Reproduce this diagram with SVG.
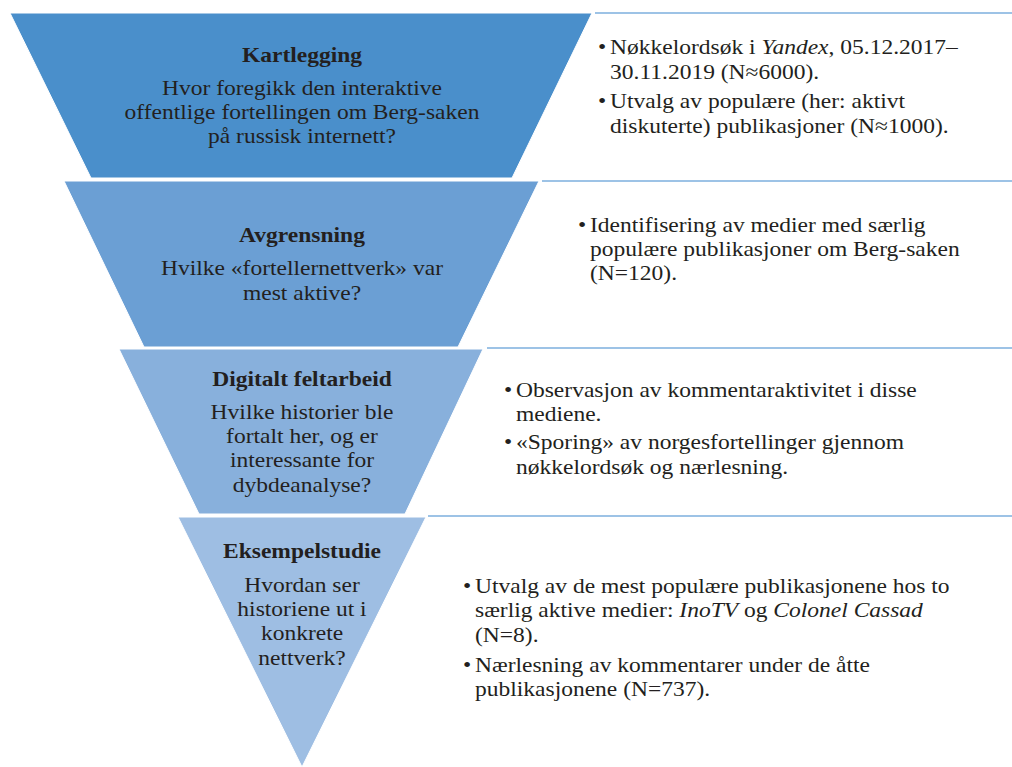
<svg xmlns="http://www.w3.org/2000/svg" width="1012" height="767" viewBox="0 0 1012 767">
<style>
.t{font-family:'Liberation Serif','Tinos','DejaVu Serif','Noto Serif',serif;font-size:21px;fill:#231f20}
.b{font-weight:bold}
.c{text-anchor:middle}
.i{font-style:italic}
.line{stroke:#9dc3e6;stroke-width:2;fill:none}
.seg{stroke:#ffffff;stroke-width:1}
</style>
<rect width="1012" height="767" fill="#ffffff"/>
<g id="connectors"></g>
<g id="seg1">
<polygon class="seg" points="10,13 592,13 512,178 91,178" fill="#4a8fcb"/>
<g transform="translate(302 0) scale(1.12 1)">
<text class="t c" font-family="Liberation Serif, serif"><tspan class="b" x="0" y="62">Kartlegging</tspan><tspan x="0" y="95">Hvor foregikk den interaktive</tspan><tspan x="0" y="119">offentlige fortellingen om Berg-saken</tspan><tspan x="0" y="143">på russisk internett?</tspan></text>
</g>
</g>
<g id="seg2">
<polygon class="seg" points="64,181 539,181 458,347 144,347" fill="#6b9fd4"/>
<g transform="translate(302 0) scale(1.12 1)">
<text class="t c"><tspan class="b" x="0" y="242">Avgrensning</tspan><tspan x="0" y="275">Hvilke «fortellernettverk» var</tspan><tspan x="0" y="300">mest aktive?</tspan></text>
</g>
</g>
<g id="seg3">
<polygon class="seg" points="119,349 483,349 405,514 199,514" fill="#88b0dc"/>
<g transform="translate(302 0) scale(1.12 1)">
<text class="t c"><tspan class="b" x="0" y="386">Digitalt feltarbeid</tspan><tspan x="0" y="419">Hvilke historier ble</tspan><tspan x="0" y="443">fortalt her, og er</tspan><tspan x="0" y="467">interessante for</tspan><tspan x="0" y="492">dybdeanalyse?</tspan></text>
</g>
</g>
<g id="seg4">
<polygon class="seg" points="178,517 426,517 302,767" fill="#9ebee3"/>
<g transform="translate(302 0) scale(1.12 1)">
<text class="t c"><tspan class="b" x="0" y="558">Eksempelstudie</tspan><tspan x="0" y="592">Hvordan ser</tspan><tspan x="0" y="616">historiene ut i</tspan><tspan x="0" y="640">konkrete</tspan><tspan x="0" y="665">nettverk?</tspan></text>
</g>
</g>
<g id="box1">
<line class="line" x1="595" y1="13" x2="1012" y2="13"/>
<g transform="translate(610 0) scale(1.12 1)">
<text class="t"><tspan x="-10.7" y="54">•</tspan><tspan x="0" y="54">Nøkkelordsøk i <tspan class="i">Yandex</tspan>, 05.12.2017–</tspan><tspan x="0" y="79">30.11.2019 (N≈6000).</tspan><tspan x="-10.7" y="108">•</tspan><tspan x="0" y="108">Utvalg av populære (her: aktivt</tspan><tspan x="0" y="133">diskuterte) publikasjoner (N≈1000).</tspan></text>
</g>
</g>
<g id="box2">
<line class="line" x1="542" y1="181" x2="1012" y2="181"/>
<g transform="translate(590 0) scale(1.12 1)">
<text class="t"><tspan x="-10.7" y="232">•</tspan><tspan x="0" y="232">Identifisering av medier med særlig</tspan><tspan x="0" y="256">populære publikasjoner om Berg-saken</tspan><tspan x="0" y="280">(N=120).</tspan></text>
</g>
</g>
<g id="box3">
<line class="line" x1="487" y1="348" x2="1012" y2="348"/>
<g transform="translate(516 0) scale(1.12 1)">
<text class="t"><tspan x="-10.7" y="397">•</tspan><tspan x="0" y="397">Observasjon av kommentaraktivitet i disse</tspan><tspan x="0" y="421">mediene.</tspan><tspan x="-10.7" y="449">•</tspan><tspan x="0" y="449">«Sporing» av norgesfortellinger gjennom</tspan><tspan x="0" y="474">nøkkelordsøk og nærlesning.</tspan></text>
</g>
</g>
<g id="box4">
<line class="line" x1="428" y1="516" x2="1012" y2="516"/>
<g transform="translate(475 0) scale(1.12 1)">
<text class="t"><tspan x="-10.7" y="593">•</tspan><tspan x="0" y="593">Utvalg av de mest populære publikasjonene hos to</tspan><tspan x="0" y="617">særlig aktive medier: <tspan class="i">InoTV</tspan> og <tspan class="i">Colonel Cassad</tspan></tspan><tspan x="0" y="642">(N=8).</tspan><tspan x="-10.7" y="672">•</tspan><tspan x="0" y="672">Nærlesning av kommentarer under de åtte</tspan><tspan x="0" y="696">publikasjonene (N=737).</tspan></text>
</g>
</g>
</svg>
